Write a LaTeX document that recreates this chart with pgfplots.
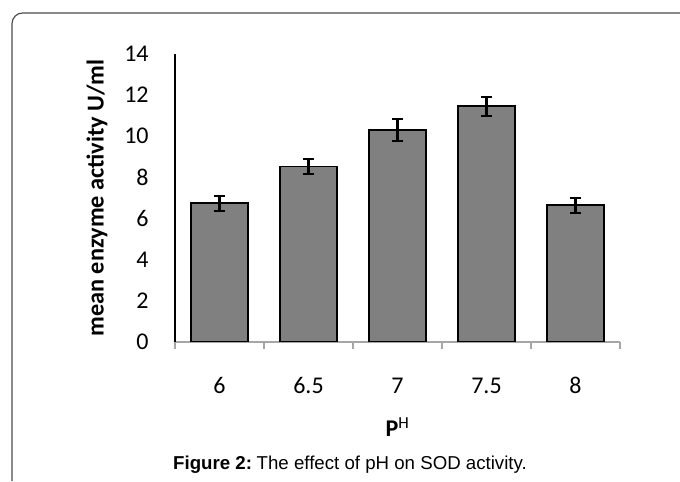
\documentclass[border=0pt]{standalone}
\usepackage{pgfplots}
\pgfplotsset{compat=1.18}
\usepackage{fontspec}
\setmainfont{Carlito}
\newfontfamily\arialfont{Liberation Sans}
\begin{document}
\begin{tikzpicture}
\path[use as bounding box] (0,0) rectangle (510pt,360.75pt);
\draw[gray!60!black, line width=0.9pt, rounded corners=8pt]
  (9pt,0) -- (9pt,351pt) -- (511pt,351pt);
\begin{axis}[
  at={(131.25pt,104.25pt)}, anchor=south west,
  scale only axis, width=333.75pt, height=216pt,
  xmin=-0.5, xmax=4.5, ymin=0, ymax=14,
  axis x line=bottom, axis y line=left,
  axis line style={-},
  x axis line style={draw=gray!70, line width=1pt},
  y axis line style={draw=black, line width=0.8pt},
  xtick={0,1,2,3,4},
  xticklabels={6,6.5,7,7.5,8},
  major x tick style={draw=none},
  minor xtick={-0.5,0.5,1.5,2.5,3.5,4.5},
  minor x tick style={draw=gray!70, line width=1pt},
  minor tick length=5pt,
  tick align=outside,
  ytick={0,2,...,14},
  major y tick style={draw=none},
  /pgf/number format/assume math mode=true,
  tick label style={font=\fontsize{18}{21}\selectfont},
  xticklabel style={anchor=center, yshift=-28.5pt},
  yticklabel style={anchor=east, xshift=-12pt},
  xlabel={\textbf{P}\textsuperscript{H}},
  xlabel style={at={(axis description cs:0.5,-0.295)}, anchor=center, font=\fontsize{18}{21}\selectfont},
  ylabel={\textbf{mean enzyme activity U/ml}},
  ylabel style={at={(axis description cs:-0.175,0.5)}, anchor=center, font=\fontsize{18.2}{22}\selectfont},
]
\addplot[ybar, bar width=43.2pt, fill=black!50, draw=black, line width=1.4pt,
  error bars/.cd, y dir=both, y explicit,
  error bar style={line width=1.6pt, black},
  error mark options={rotate=90, line width=1.6pt, mark size=4pt, black}]
coordinates {
  (0, 6.74) +- (0, 0.37)
  (1, 8.53) +- (0, 0.37)
  (2, 10.31) +- (0, 0.52)
  (3, 11.46) +- (0, 0.47)
  (4, 6.65) +- (0, 0.37)
};
\end{axis}
\node[font=\arialfont\fontsize{14}{17}\selectfont] at (262.5pt,12pt)
  {\textbf{Figure 2:}\hspace{-0.12em} The effect of pH on SOD activity.};
\end{tikzpicture}
\end{document}
